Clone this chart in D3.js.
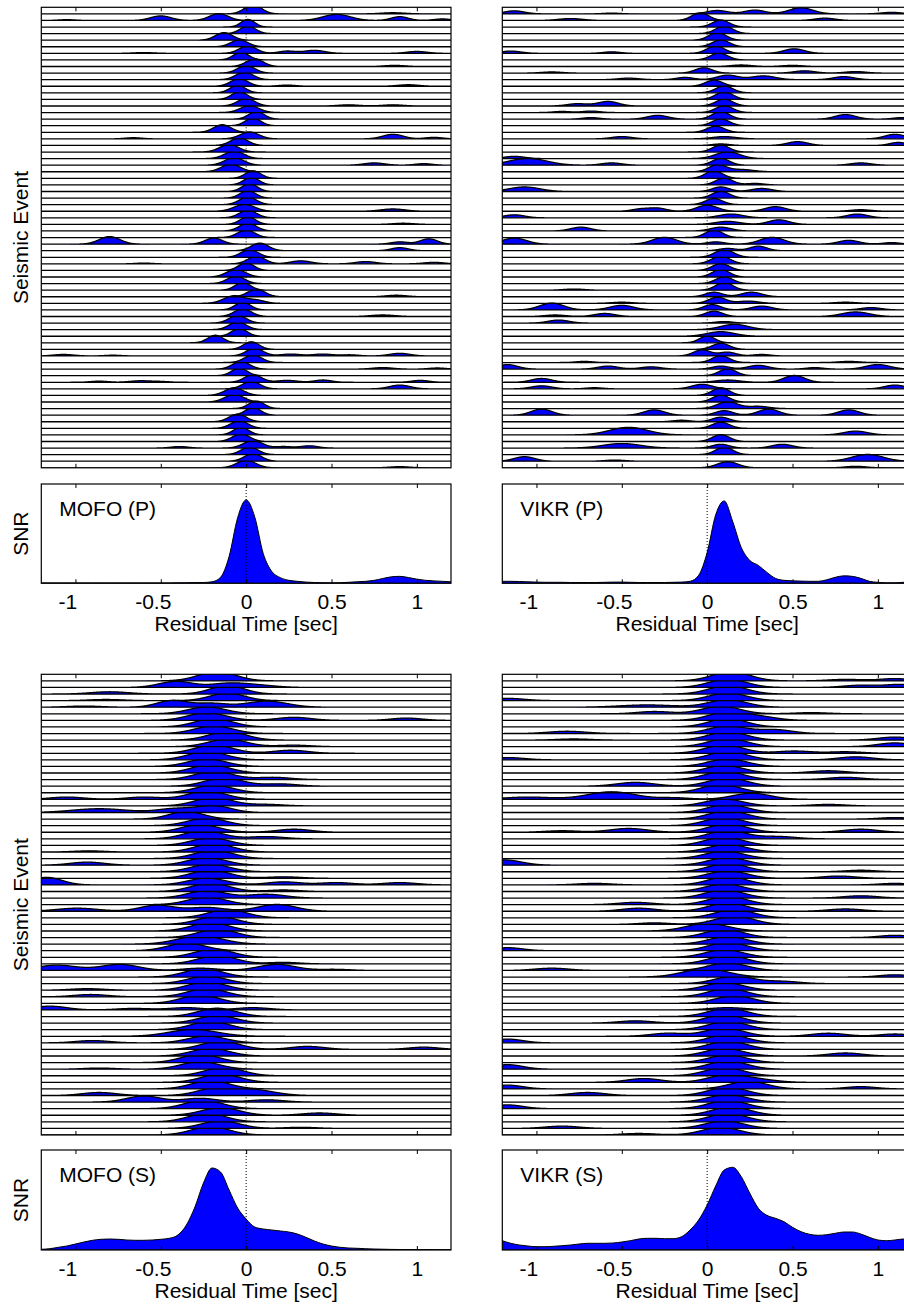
<!DOCTYPE html>
<html><head><meta charset="utf-8">
<script src="https://cdn.jsdelivr.net/npm/d3@7"></script>
<style>
body{margin:0;background:#fff}
svg{display:block}
text{font-family:"Liberation Sans",Arial,Helvetica,sans-serif;fill:#000}
</style>
</head><body><div id="chart"></div>
<script>
// ---------------- DATA ----------------
const xTicks = [-1, -0.5, 0, 0.5, 1];
const xTickLabels = ["-1", "-0.5", "0", "0.5", "1"];
const stationLabels = ["MOFO (P)", "VIKR (P)", "MOFO (S)", "VIKR (S)"];
const xLabel = "Residual Time [sec]";
const rowLabel = "Seismic Event";
const snrLabel = "SNR";

// SNR summary curves (fraction of panel height) sampled at snrX
const snrX = [-1.2,-1.15,-1.1,-1.05,-1,-0.95,-0.9,-0.85,-0.8,-0.75,-0.7,-0.65,-0.6,-0.55,-0.5,-0.45,-0.4,-0.35,-0.3,-0.25,-0.2,-0.15,-0.1,-0.05,0,0.05,0.1,0.15,0.2,0.25,0.3,0.35,0.4,0.45,0.5,0.55,0.6,0.65,0.7,0.75,0.8,0.85,0.9,0.95,1,1.05,1.1,1.15,1.2];
const snrMOFO_P = [0.004,0.004,0.004,0.004,0.004,0.004,0.004,0.004,0.004,0.004,0.004,0.004,0.004,0.004,0.004,0.004,0.005,0.006,0.007,0.008,0.015,0.06,0.27,0.66,0.84,0.67,0.3,0.12,0.057,0.03,0.02,0.012,0.008,0.006,0.005,0.006,0.01,0.015,0.02,0.03,0.048,0.065,0.07,0.058,0.042,0.03,0.024,0.02,0.015];
const snrVIKR_P = [0.02,0.02,0.018,0.015,0.012,0.01,0.01,0.01,0.008,0.008,0.008,0.008,0.01,0.012,0.012,0.01,0.008,0.008,0.008,0.008,0.01,0.012,0.02,0.08,0.31,0.69,0.83,0.62,0.36,0.23,0.18,0.11,0.05,0.03,0.025,0.022,0.02,0.02,0.035,0.06,0.075,0.07,0.05,0.02,0.01,0.005,0.005,0.01,0.015];
const snrMOFO_S = [0.007,0.013,0.027,0.04,0.06,0.08,0.097,0.107,0.11,0.107,0.1,0.097,0.097,0.1,0.107,0.117,0.15,0.25,0.43,0.67,0.82,0.78,0.6,0.42,0.31,0.23,0.21,0.2,0.19,0.18,0.16,0.127,0.09,0.06,0.04,0.027,0.02,0.017,0.013,0.01,0.008,0.006,0.005,0.005,0.004,0.004,0.003,0.003,0.003];
const snrVIKR_S = [0.093,0.067,0.05,0.04,0.033,0.033,0.037,0.043,0.05,0.06,0.067,0.067,0.067,0.07,0.08,0.093,0.11,0.117,0.117,0.113,0.113,0.133,0.2,0.3,0.45,0.64,0.8,0.827,0.733,0.567,0.417,0.347,0.317,0.283,0.227,0.183,0.157,0.147,0.153,0.167,0.18,0.18,0.16,0.127,0.1,0.093,0.1,0.11,0.11];

// Per-event residual densities: peaks [centre (s), width (s), height (row units)]
const rowsMOFO_P = [
[[0.04,0.05,1.2],[0.86,0.07,0.15]],
[[-1.05,0.05,0.1],[-0.5,0.06,0.6],[-0.16,0.055,0.9],[0.53,0.08,0.8],[0.9,0.05,0.5],[1.15,0.05,0.2]],
[[0.01,0.04,1.0]],
[[0.01,0.045,1.0]],
[[-0.13,0.05,1.0]],
[[-0.04,0.05,0.9]],
[[0.01,0.05,1.0],[0.24,0.05,0.3],[0.4,0.06,0.4],[1.0,0.06,0.25],[-0.6,0.06,0.1]],
[[-0.03,0.045,1.0]],
[[0.05,0.05,1.0],[0.87,0.06,0.15]],
[[0.0,0.05,1.0]],
[[-0.01,0.05,1.0]],
[[-0.04,0.05,1.0],[0.24,0.05,0.15],[0.95,0.06,0.2]],
[[-0.05,0.045,1.0]],
[[-0.04,0.045,1.0]],
[[0.0,0.05,1.0],[0.6,0.06,0.15],[0.86,0.06,0.15]],
[[0.02,0.055,0.9]],
[[0.06,0.045,1.0]],
[[0.04,0.045,1.0]],
[[-0.14,0.05,1.0]],
[[0.02,0.055,0.9],[-0.66,0.05,0.15],[0.86,0.06,0.6],[1.1,0.05,0.2]],
[[-0.04,0.05,1.0]],
[[-0.1,0.055,1.0]],
[[-0.07,0.055,1.0]],
[[-0.07,0.055,1.0],[0.75,0.06,0.3],[1.04,0.05,0.2]],
[[-0.09,0.055,1.0]],
[[0.04,0.045,1.0]],
[[0.03,0.045,1.0]],
[[0.02,0.045,1.0]],
[[0.01,0.045,1.0]],
[[0.01,0.05,1.0]],
[[-0.01,0.06,0.9],[0.86,0.07,0.3]],
[[0.01,0.05,1.0]],
[[0.01,0.045,1.0],[0.92,0.06,0.15]],
[[0.01,0.05,1.0]],
[[0.0,0.05,1.0]],
[[-0.8,0.06,1.0],[-0.19,0.05,0.8],[0.9,0.05,0.3],[1.07,0.05,0.7]],
[[0.08,0.05,1.0],[0.9,0.05,0.4]],
[[0.02,0.05,1.0]],
[[0.06,0.05,1.0],[0.32,0.06,0.4],[0.7,0.06,0.3],[1.1,0.06,0.2],[-0.6,0.05,0.1]],
[[0.0,0.045,1.0]],
[[-0.06,0.055,1.0]],
[[-0.06,0.05,1.0]],
[[-0.02,0.045,1.0]],
[[0.06,0.05,1.0],[0.88,0.06,0.2]],
[[-0.07,0.06,1.0],[0.06,0.05,0.4]],
[[-0.02,0.045,1.0]],
[[-0.02,0.05,1.0],[0.8,0.07,0.2]],
[[-0.05,0.05,1.0]],
[[-0.05,0.05,1.0]],
[[-0.04,0.045,1.0]],
[[-0.18,0.045,1.0]],
[[0.03,0.045,1.0]],
[[0.05,0.05,1.0],[-1.07,0.06,0.2],[-0.78,0.05,0.1],[0.26,0.06,0.25],[0.45,0.06,0.25],[0.61,0.05,0.15],[0.9,0.06,0.35]],
[[0.04,0.05,1.0]],
[[-0.03,0.05,1.0],[0.8,0.06,0.2],[1.12,0.05,0.15]],
[[-0.04,0.045,1.0]],
[[0.04,0.05,1.0],[-0.86,0.05,0.15],[-0.62,0.06,0.2],[-0.5,0.05,0.1],[0.24,0.06,0.25],[0.45,0.05,0.3],[1.02,0.05,0.25]],
[[0.03,0.05,1.0],[0.9,0.06,0.5]],
[[-0.07,0.055,1.0]],
[[-0.07,0.055,1.0]],
[[0.06,0.045,1.0]],
[[0.04,0.045,1.0]],
[[-0.05,0.05,1.0]],
[[-0.04,0.05,1.0]],
[[-0.03,0.045,1.0]],
[[-0.03,0.05,1.0]],
[[0.04,0.055,1.0],[-0.39,0.05,0.2],[0.22,0.05,0.2],[0.37,0.05,0.3]],
[[0.02,0.05,1.0]],
[[0.04,0.05,1.0]],
[[0.0,0.055,1.0],[0.9,0.06,0.15]]
];

const rowsVIKR_P = [
[[-1.13,0.06,0.4],[-0.56,0.05,0.1],[0.06,0.06,0.45],[0.28,0.06,0.5],[0.55,0.07,0.8],[1.08,0.06,0.2]],
[[-0.8,0.07,0.25],[-0.04,0.05,1.0],[0.69,0.06,0.3]],
[[0.08,0.05,0.9]],
[[0.1,0.05,1.0]],
[[0.06,0.05,1.0]],
[[0.08,0.05,0.9]],
[[0.05,0.05,1.0],[-1.15,0.06,0.3],[-0.56,0.05,0.2],[0.51,0.06,0.6]],
[[0.07,0.05,0.9]],
[[0.2,0.06,0.2],[0.5,0.06,0.15]],
[[-0.02,0.05,0.7],[-0.91,0.06,0.15],[0.57,0.06,0.3],[0.87,0.06,0.2]],
[[0.12,0.06,0.6],[0.33,0.07,0.5],[-0.46,0.06,0.2],[-0.13,0.05,0.3],[0.8,0.06,0.4]],
[[0.04,0.05,0.8]],
[[0.1,0.05,0.9]],
[[0.1,0.05,1.0]],
[[-0.76,0.06,0.3],[-0.58,0.06,0.6],[0.1,0.05,0.9]],
[[0.1,0.05,0.9],[-0.85,0.05,0.15],[-0.68,0.05,0.2]],
[[0.08,0.05,1.0],[-0.68,0.05,0.2],[-0.29,0.06,0.5],[0.81,0.06,0.6],[1.14,0.05,0.2]],
[[0.08,0.05,0.9]],
[[0.05,0.05,0.8]],
[[-0.5,0.06,0.3],[0.1,0.07,0.3],[1.1,0.06,0.6]],
[[0.08,0.05,0.2],[0.53,0.06,0.5],[1.12,0.05,0.4]],
[[0.08,0.05,0.9]],
[[-1.13,0.06,0.3],[0.12,0.07,0.9]],
[[-1.05,0.11,0.9],[-0.56,0.06,0.3],[0.08,0.05,0.9],[0.9,0.06,0.3]],
[[0.06,0.05,0.9],[0.2,0.07,0.3]],
[[0.04,0.05,1.0]],
[[0.1,0.05,0.9],[0.28,0.05,0.2]],
[[-1.07,0.09,0.6],[0.08,0.05,0.6],[0.32,0.06,0.4]],
[[0.08,0.05,0.9]],
[[0.04,0.05,0.8]],
[[0.0,0.06,0.8],[-0.39,0.05,0.3],[-0.29,0.05,0.4],[0.4,0.06,0.6],[0.9,0.06,0.2]],
[[-1.13,0.06,0.4],[0.14,0.07,0.5],[0.88,0.06,0.5]],
[[0.12,0.07,0.4],[0.42,0.06,0.6]],
[[-0.74,0.06,0.5],[0.08,0.06,0.5]],
[[0.04,0.05,1.0]],
[[-1.13,0.07,0.8],[-0.25,0.07,0.9],[0.05,0.05,0.3],[0.38,0.07,0.9],[0.83,0.06,0.5],[1.08,0.05,0.2]],
[[0.12,0.05,0.3],[0.3,0.05,0.6]],
[[0.1,0.055,1.0]],
[[0.08,0.055,1.0]],
[[0.08,0.05,0.9]],
[[0.08,0.05,1.0]],
[[0.1,0.05,0.9]],
[[0.1,0.05,1.0],[-0.78,0.06,0.15]],
[[0.04,0.05,0.6],[0.26,0.06,0.6]],
[[0.06,0.05,0.8],[-0.5,0.06,0.15],[0.24,0.06,0.3],[0.81,0.06,0.15]],
[[-0.91,0.07,0.9],[-0.5,0.07,0.6],[0.03,0.05,0.7],[0.32,0.06,0.5],[0.96,0.06,0.3]],
[[0.04,0.05,0.7],[-0.89,0.06,0.2],[-0.6,0.06,0.4],[0.87,0.08,0.6]],
[[-0.87,0.06,0.4],[0.1,0.05,0.2]],
[[0.16,0.08,0.7]],
[[0.08,0.08,0.6]],
[[0.0,0.045,0.9]],
[[0.08,0.05,0.8]],
[[-0.03,0.05,0.8],[0.12,0.05,0.5],[0.32,0.05,0.2]],
[[0.08,0.05,0.9],[-0.72,0.05,0.15],[0.83,0.06,0.15]],
[[-1.17,0.06,0.6],[-0.58,0.06,0.4],[-0.33,0.06,0.3],[0.08,0.05,0.4],[0.3,0.06,0.5],[0.63,0.05,0.2],[1.0,0.07,0.6]],
[[0.12,0.05,0.9]],
[[-0.97,0.06,0.5],[0.12,0.07,0.3],[0.51,0.06,0.9]],
[[-0.97,0.06,0.4],[-0.66,0.05,0.15],[-0.03,0.06,0.6],[1.1,0.06,0.5]],
[[0.08,0.05,1.0]],
[[0.08,0.05,0.9]],
[[0.12,0.06,0.9],[0.3,0.06,0.3]],
[[-0.97,0.06,0.8],[-0.31,0.06,0.7],[0.1,0.05,0.6],[0.36,0.06,0.8],[0.83,0.06,0.7]],
[[0.08,0.05,0.6],[-0.15,0.05,0.2]],
[[0.08,0.05,0.8]],
[[-0.46,0.11,1.0],[0.87,0.07,0.5]],
[[0.08,0.05,0.9]],
[[-0.5,0.11,0.6],[0.08,0.05,0.5],[0.44,0.06,0.5]],
[[0.1,0.05,1.0]],
[[-1.07,0.06,0.6],[-0.54,0.06,0.15],[0.94,0.09,0.9]],
[[0.12,0.06,0.8],[0.87,0.06,0.2]]
];

const rowsMOFO_S = [
[[-0.17,0.11,1.2]],
[[-0.41,0.1,0.8],[-0.11,0.1,0.5],[0.06,0.11,0.3]],
[[-0.11,0.1,1.1],[-0.8,0.11,0.3]],
[[-0.11,0.1,1.0],[-0.82,0.1,0.15]],
[[-0.95,0.1,0.15],[-0.43,0.09,0.9],[-0.2,0.09,0.5],[0.12,0.12,0.8]],
[[-0.23,0.11,0.9]],
[[-0.23,0.11,1.0],[0.28,0.1,0.4],[0.94,0.09,0.3]],
[[-0.19,0.11,1.1]],
[[-0.19,0.11,1.0]],
[[-0.11,0.11,1.1]],
[[-0.11,0.11,1.0],[0.28,0.1,0.2]],
[[-0.19,0.11,1.1],[0.26,0.1,0.4]],
[[-0.23,0.11,1.1]],
[[-0.23,0.11,1.0]],
[[-0.21,0.11,1.1]],
[[-0.19,0.11,1.1],[0.16,0.1,0.3]],
[[-0.13,0.11,1.1],[0.2,0.1,0.3]],
[[-0.19,0.11,1.0]],
[[-0.23,0.11,1.1],[-1.05,0.1,0.3],[-0.6,0.1,0.3]],
[[-0.19,0.11,1.1],[0.12,0.1,0.2]],
[[-0.86,0.16,0.5],[-0.42,0.1,0.5],[-0.19,0.1,0.9]],
[[-0.35,0.1,1.0]],
[[-0.23,0.11,1.0]],
[[-0.27,0.11,1.0],[0.28,0.1,0.4]],
[[-0.25,0.11,1.1],[0.12,0.1,0.3]],
[[-0.21,0.11,1.0]],
[[-0.19,0.11,1.1],[-0.92,0.09,0.15]],
[[-0.19,0.11,1.1]],
[[-0.23,0.11,1.0],[-0.93,0.1,0.4]],
[[-0.21,0.11,1.0]],
[[-0.21,0.11,1.1],[0.22,0.1,0.2]],
[[-1.17,0.09,1.0],[-0.23,0.11,0.9],[0.22,0.1,0.4],[0.53,0.1,0.3],[0.9,0.1,0.3]],
[[-0.21,0.11,1.1],[0.22,0.09,0.2]],
[[-0.23,0.11,1.0],[0.12,0.11,0.5]],
[[-0.23,0.11,1.0]],
[[-0.99,0.12,0.4],[-0.52,0.1,0.8],[-0.23,0.1,0.5],[0.18,0.11,0.9]],
[[-0.11,0.11,1.1]],
[[-0.17,0.11,1.1]],
[[-0.21,0.11,1.1]],
[[-0.17,0.11,1.1]],
[[-0.27,0.13,1.1]],
[[-0.35,0.11,1.0]],
[[-0.19,0.11,1.1]],
[[-0.17,0.11,1.1],[0.22,0.09,0.2]],
[[-1.11,0.12,0.7],[-0.74,0.11,0.8],[-0.27,0.1,0.3],[0.18,0.11,0.8],[0.52,0.09,0.15]],
[[-0.25,0.11,1.1]],
[[-0.23,0.11,1.0]],
[[-0.23,0.11,1.1],[-0.93,0.1,0.2]],
[[-0.23,0.11,1.1],[-0.91,0.1,0.3]],
[[-0.27,0.11,1.1]],
[[-1.15,0.1,0.5],[-0.66,0.1,0.2],[-0.35,0.1,0.3],[0.04,0.1,0.3]],
[[-0.17,0.11,1.1]],
[[-0.17,0.11,1.0]],
[[-0.21,0.11,1.1]],
[[-0.31,0.14,0.9]],
[[-0.23,0.11,0.9],[-0.9,0.1,0.3]],
[[-0.15,0.11,1.1],[0.36,0.1,0.4],[1.04,0.09,0.3]],
[[-0.21,0.11,1.0]],
[[-0.27,0.11,1.1]],
[[-0.27,0.11,1.0],[-0.86,0.09,0.15]],
[[-0.13,0.11,1.1]],
[[-0.15,0.11,1.1]],
[[-0.21,0.11,1.1]],
[[-0.17,0.11,1.0],[0.05,0.12,0.7],[-0.86,0.1,0.4]],
[[-0.6,0.1,0.8],[-0.27,0.1,0.5],[0.12,0.1,0.3]],
[[-0.25,0.11,1.1]],
[[-0.15,0.11,1.0],[0.43,0.1,0.3]],
[[-0.23,0.11,1.1]],
[[-0.15,0.11,1.0],[0.32,0.09,0.15]],
[[-0.21,0.11,1.1]]
];

const rowsVIKR_S = [
[[0.14,0.11,1.2],[0.81,0.1,0.2],[1.1,0.09,0.3]],
[[0.12,0.11,1.1],[0.9,0.1,0.3],[1.14,0.09,0.4]],
[[0.12,0.11,1.1]],
[[0.12,0.11,1.0],[-1.17,0.1,0.3]],
[[-0.35,0.16,0.3],[0.12,0.11,1.0]],
[[0.08,0.11,1.0],[-0.31,0.1,0.3],[0.61,0.1,0.15]],
[[0.12,0.11,1.1],[0.32,0.1,0.4]],
[[0.12,0.11,1.1]],
[[-0.82,0.11,0.3],[0.12,0.11,1.0],[0.4,0.1,0.5]],
[[0.12,0.11,1.1],[-0.78,0.1,0.15],[1.1,0.1,0.4]],
[[0.12,0.11,1.1],[1.1,0.1,0.5]],
[[0.1,0.11,1.1],[0.51,0.1,0.3],[0.81,0.1,0.2]],
[[0.12,0.11,1.1],[-1.17,0.1,0.3],[0.87,0.1,0.4]],
[[0.12,0.11,1.0]],
[[0.1,0.11,1.0],[0.71,0.1,0.3]],
[[0.1,0.11,1.1],[0.81,0.1,0.3]],
[[-0.42,0.11,0.5],[0.12,0.11,1.1]],
[[0.08,0.11,1.1]],
[[-1.05,0.14,0.3],[-0.56,0.14,1.0],[-0.19,0.09,0.2],[0.26,0.11,0.8]],
[[0.1,0.11,0.9],[0.71,0.1,0.2]],
[[0.12,0.11,1.1]],
[[0.12,0.11,1.1],[1.1,0.09,0.2]],
[[0.1,0.11,1.1]],
[[-0.85,0.1,0.2],[-0.46,0.11,0.5],[0.12,0.11,1.1],[0.9,0.1,0.4]],
[[0.12,0.11,1.1],[0.42,0.1,0.3]],
[[0.1,0.11,1.1]],
[[0.12,0.11,1.0]],
[[0.1,0.11,1.0]],
[[-1.19,0.1,0.7],[0.12,0.11,1.0]],
[[0.12,0.11,1.1],[0.9,0.09,0.2]],
[[0.12,0.11,1.0],[0.77,0.1,0.3]],
[[0.12,0.11,1.1],[-0.66,0.1,0.2],[1.1,0.09,0.2]],
[[0.1,0.11,1.0]],
[[0.1,0.11,1.1],[0.9,0.1,0.3]],
[[0.12,0.11,1.1],[-0.42,0.1,0.3]],
[[0.12,0.11,1.1],[-0.4,0.1,0.4],[0.81,0.1,0.3]],
[[0.16,0.11,1.1]],
[[0.16,0.11,1.1],[-0.31,0.09,0.2]],
[[0.0,0.12,1.0]],
[[0.1,0.11,1.1],[1.1,0.09,0.3]],
[[0.12,0.11,1.0]],
[[0.12,0.11,1.1],[-1.17,0.09,0.4]],
[[0.1,0.11,1.0]],
[[0.12,0.11,1.1]],
[[0.12,0.11,1.0],[-0.91,0.1,0.3]],
[[-0.01,0.13,1.1],[1.1,0.09,0.3]],
[[0.16,0.11,1.0],[0.44,0.1,0.3]],
[[0.1,0.11,1.0]],
[[0.12,0.11,1.1]],
[[0.16,0.11,1.0]],
[[0.12,0.11,0.3]],
[[0.12,0.11,1.1]],
[[0.1,0.11,1.1],[-0.42,0.1,0.3]],
[[0.12,0.11,1.1]],
[[0.1,0.11,1.1],[-0.23,0.1,0.4],[0.71,0.1,0.4],[1.1,0.09,0.3]],
[[0.12,0.11,1.1],[-1.17,0.09,0.5]],
[[0.12,0.11,1.1]],
[[0.1,0.11,1.0],[0.81,0.1,0.4]],
[[0.12,0.11,1.0]],
[[-1.17,0.09,0.6],[0.12,0.11,1.1]],
[[0.1,0.11,1.1]],
[[0.12,0.11,1.0],[-0.37,0.1,0.5],[0.32,0.1,0.3]],
[[0.24,0.11,1.0],[-1.17,0.09,0.5],[0.9,0.09,0.3]],
[[0.12,0.11,1.1],[-0.7,0.1,0.4]],
[[0.12,0.11,1.0]],
[[0.12,0.11,1.1],[-1.17,0.09,0.5]],
[[0.14,0.11,1.1]],
[[0.12,0.11,1.1]],
[[0.1,0.11,1.0],[-0.85,0.1,0.3]],
[[0.08,0.11,1.0],[-0.4,0.1,0.2]]
];

// ---------------- DRAWING ----------------
const W = 904, H = 1307;
const svg = d3.select("#chart").append("svg").attr("width", W).attr("height", H)
  .style("background", "#fff");

const BLUE = "#0000ff";
const FONT = 21;
const ROW_SCALE = 1.15;   // ridgeline overlap
const xDomain = [-1.2, 1.2];
const gridX = d3.range(0, 961).map(i => -1.2 + i * 0.0025);

const panels = [
  {rows: rowsMOFO_P, snr: snrMOFO_P, label: stationLabels[0], left: 41.3, ridgeTop: 7.3, ridgeH: 460.5, snrTop: 484, snrH: 99.3, yLabels: true},
  {rows: rowsVIKR_P, snr: snrVIKR_P, label: stationLabels[1], left: 502.3, ridgeTop: 7.3, ridgeH: 460.5, snrTop: 484, snrH: 99.3, yLabels: false},
  {rows: rowsMOFO_S, snr: snrMOFO_S, label: stationLabels[2], left: 41.3, ridgeTop: 674.3, ridgeH: 460.7, snrTop: 1150, snrH: 100, yLabels: true},
  {rows: rowsVIKR_S, snr: snrVIKR_S, label: stationLabels[3], left: 502.3, ridgeTop: 674.3, ridgeH: 460.7, snrTop: 1150, snrH: 100, yLabels: false}
];
const PW = 409.7;

function density(peaks, v) {
  return d3.sum(peaks, p => p[2] * Math.exp(-0.5 * Math.pow((v - p[0]) / p[1], 2)));
}

function drawFrameTicks(g, x, top, h) {
  g.append("rect").attr("x", x.range()[0]).attr("y", top).attr("width", x.range()[1] - x.range()[0]).attr("height", h)
    .attr("fill", "none").attr("stroke", "#000").attr("stroke-width", 1.2);
  const ta = g.append("g").attr("transform", `translate(0,${top})`)
    .call(d3.axisTop(x).tickValues(xTicks).tickSize(-4).tickFormat(""));
  ta.select(".domain").remove();
  ta.selectAll("line").attr("stroke", "#000");
}

panels.forEach((P, pi) => {
  const x = d3.scaleLinear().domain(xDomain).range([P.left, P.left + PW]);
  const g = svg.append("g");

  // ---- ridge panel ----
  const n = P.rows.length;
  const yR = d3.scaleLinear().domain([0, n]).range([P.ridgeTop, P.ridgeTop + P.ridgeH]);
  const cid = "clipR" + pi;
  svg.append("clipPath").attr("id", cid).append("rect")
    .attr("x", P.left).attr("y", P.ridgeTop).attr("width", PW).attr("height", P.ridgeH);
  const rg = g.append("g").attr("clip-path", `url(#${cid})`);
  rg.append("line").attr("x1", x(0)).attr("x2", x(0)).attr("y1", P.ridgeTop).attr("y2", P.ridgeTop + P.ridgeH)
    .attr("stroke", "#000").attr("stroke-width", 1).attr("stroke-dasharray", "1,2");
  for (let i = n - 1; i >= 0; i--) {
    const pts = gridX.map(v => [v, density(P.rows[i], v)]);
    const area = d3.area().x(d => x(d[0])).y0(yR(i + 1)).y1(d => yR(i + 1 - ROW_SCALE * d[1]));
    rg.append("path").attr("d", area(pts)).attr("fill", BLUE)
      .attr("stroke", "#000").attr("stroke-width", 1.3).attr("stroke-linejoin", "round");
  }
  drawFrameTicks(g, x, P.ridgeTop, P.ridgeH);
  const rb = g.append("g").attr("transform", `translate(0,${P.ridgeTop + P.ridgeH})`)
    .call(d3.axisBottom(x).tickValues(xTicks).tickSize(-4).tickFormat(""));
  rb.select(".domain").remove();

  // ---- SNR panel ----
  const yS = d3.scaleLinear().domain([0, 1]).range([P.snrTop + P.snrH, P.snrTop]);
  const sid = "clipS" + pi;
  svg.append("clipPath").attr("id", sid).append("rect")
    .attr("x", P.left).attr("y", P.snrTop).attr("width", PW).attr("height", P.snrH);
  const sg = g.append("g").attr("clip-path", `url(#${sid})`);
  const sPts = snrX.map((v, i) => [v, P.snr[i]]);
  sg.append("path").attr("d", d3.area().x(d => x(d[0])).y0(yS(0)).y1(d => yS(d[1])).curve(d3.curveMonotoneX)(sPts))
    .attr("fill", BLUE).attr("stroke", "#000").attr("stroke-width", 1);
  sg.append("line").attr("x1", x(0)).attr("x2", x(0)).attr("y1", P.snrTop).attr("y2", P.snrTop + P.snrH)
    .attr("stroke", "#000").attr("stroke-width", 1).attr("stroke-dasharray", "1,2");
  drawFrameTicks(g, x, P.snrTop, P.snrH);
  const sb = g.append("g").attr("transform", `translate(0,${P.snrTop + P.snrH})`)
    .call(d3.axisBottom(x).tickValues(xTicks).tickSize(-4).tickPadding(11)
      .tickFormat((d, i) => xTickLabels[i]));
  sb.select(".domain").remove();
  sb.selectAll("text").attr("font-size", FONT).attr("fill", "#000")
    .attr("font-family", '"Liberation Sans",Arial,sans-serif')
    .attr("dx", (d) => d < 0 ? -8 : 0);

  g.append("text").attr("x", P.left + 18).attr("y", P.snrTop + 32).attr("font-size", FONT).text(P.label);
  g.append("text").attr("x", x(0)).attr("y", P.snrTop + P.snrH + 47.5).attr("text-anchor", "middle")
    .attr("font-size", FONT).text(xLabel);

  if (P.yLabels) {
    const cy1 = P.ridgeTop + P.ridgeH / 2;
    g.append("text").attr("transform", `translate(28,${cy1}) rotate(-90)`).attr("text-anchor", "middle")
      .attr("font-size", FONT).text(rowLabel);
    const cy2 = P.snrTop + P.snrH / 2;
    g.append("text").attr("transform", `translate(28,${cy2}) rotate(-90)`).attr("text-anchor", "middle")
      .attr("font-size", FONT).text(snrLabel);
  }
});
</script>
</body></html>
